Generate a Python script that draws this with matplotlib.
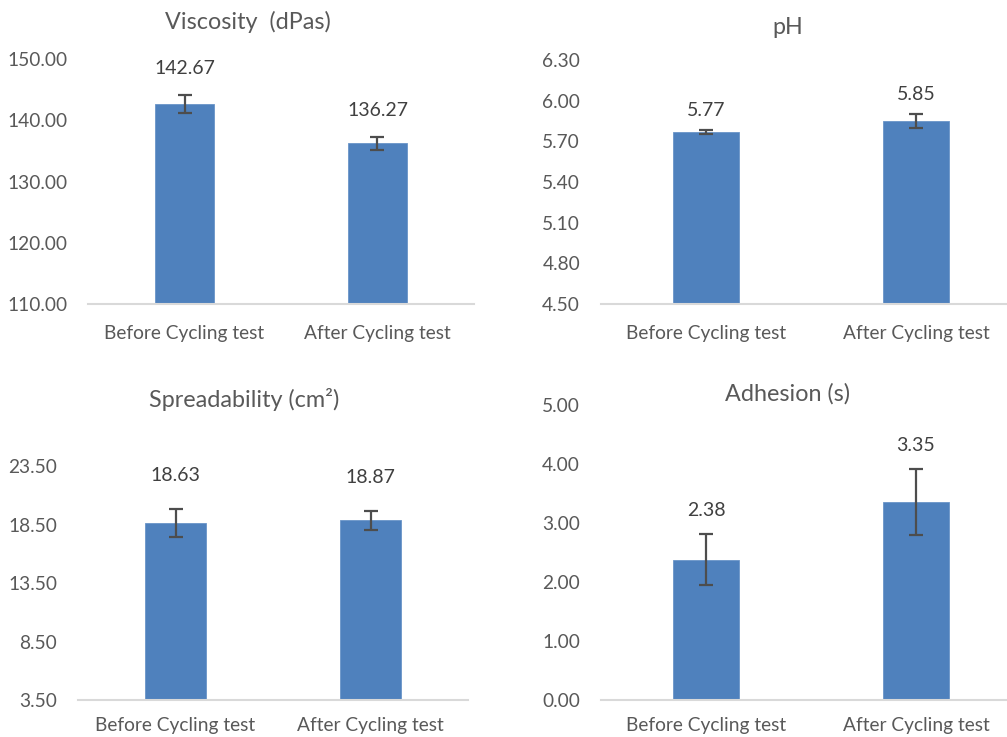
import matplotlib
matplotlib.use("Agg")
import matplotlib.pyplot as plt
from matplotlib.ticker import FormatStrFormatter

plt.rcParams["font.family"] = ["Lato", "DejaVu Sans"]

categories = ["Before Cycling test", "After Cycling test"]

viscosity = [142.67, 136.27]
viscosity_err = [1.5, 1.05]
ph = [5.77, 5.85]
ph_err = [0.015, 0.05]
spreadability = [18.63, 18.87]
spreadability_err = [1.2, 0.82]
adhesion = [2.38, 3.35]
adhesion_err = [0.43, 0.56]

BAR = "#4F81BD"
TEXT = "#595959"
LABEL = "#404040"
AXIS = "#D9D9D9"
ERR = "#4D4D4D"


def draw_panel(ax, values, errors, ylim, step, label_offset, xpad=15):
    x = list(range(len(categories)))
    ax.bar(x, values, width=0.31, color=BAR, edgecolor="#6A94C8", linewidth=0.6, zorder=2)
    ax.errorbar(x, values, yerr=errors, fmt="none", ecolor=ERR, elinewidth=1.6,
                capsize=5, capthick=1.6, zorder=3)
    for xi, v, e in zip(x, values, errors):
        ax.annotate(f"{v:.2f}", (xi, v + e), xytext=(0, label_offset), textcoords="offset points",
                    ha="center", va="center", fontsize=14, color=LABEL, annotation_clip=False)
    ax.set_xlim(-0.5, len(categories) - 0.5)
    ax.set_ylim(*ylim)
    ticks = []
    t = ylim[0]
    while t <= ylim[1] + 1e-9:
        ticks.append(round(t, 4))
        t += step
    ax.set_yticks(ticks)
    ax.yaxis.set_major_formatter(FormatStrFormatter("%.2f"))
    ax.set_xticks(x)
    ax.set_xticklabels(categories)
    for side in ("top", "right", "left"):
        ax.spines[side].set_visible(False)
    ax.spines["bottom"].set_color(AXIS)
    ax.spines["bottom"].set_linewidth(1.5)
    ax.tick_params(axis="both", length=0, labelsize=13.8, colors=TEXT)
    ax.tick_params(axis="x", pad=xpad)
    ax.tick_params(axis="y", pad=15)


fig = plt.figure(figsize=(10.07, 7.37), dpi=100)

ax1 = fig.add_axes([0.0874, 0.5875, 0.3833, 0.3324])
draw_panel(ax1, viscosity, viscosity_err, (110, 150), 10, 19)
fig.text(0.246, 0.970, "Viscosity  (dPas)", ha="center", va="center", fontsize=16.8, color=TEXT)

ax2 = fig.add_axes([0.5968, 0.5875, 0.4171, 0.3311])
draw_panel(ax2, ph, ph_err, (4.5, 6.3), 0.3, 14)
fig.text(0.7825, 0.963, "pH", ha="center", va="center", fontsize=16.8, color=TEXT)

ax3 = fig.add_axes([0.0775, 0.0502, 0.3873, 0.3175])
draw_panel(ax3, spreadability, spreadability_err, (3.5, 23.5), 5, 24, xpad=12)
fig.text(0.242, 0.458, "Spreadability (cm²)", ha="center", va="center", fontsize=16.8, color=TEXT)

ax4 = fig.add_axes([0.5968, 0.0502, 0.4171, 0.4003])
draw_panel(ax4, adhesion, adhesion_err, (0.0, 5.0), 1.0, 17, xpad=12)
fig.text(0.7825, 0.466, "Adhesion (s)", ha="center", va="center", fontsize=16.8, color=TEXT)

fig.savefig("out.png", dpi=100)
